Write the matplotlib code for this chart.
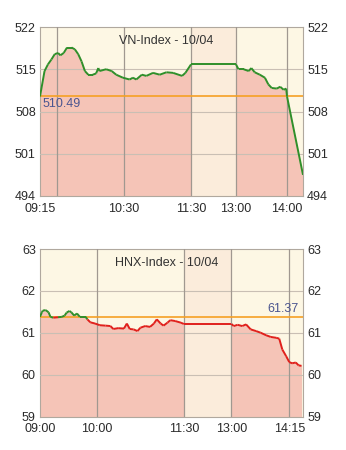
import numpy as np
import matplotlib; matplotlib.use("Agg")
import matplotlib.pyplot as plt
from matplotlib.collections import LineCollection

plt.rcParams['font.family'] = ['Liberation Sans', 'DejaVu Sans']

# --- VN-Index, 10/04 ---
vn_times = ["09:15", "09:19", "09:22", "09:25", "09:28", "09:31", "09:33", "09:36", "09:39",
            "09:43", "09:46", "09:49", "09:52", "09:55", "09:58", "10:02", "10:05", "10:07",
            "10:08", "10:14", "10:19", "10:23", "10:29", "10:35", "10:38", "10:41", "10:46",
            "10:50", "10:56", "11:02", "11:08", "11:14", "11:22", "11:25", "11:30", "13:00",
            "13:03", "13:09", "13:15", "13:18", "13:22", "13:28", "13:34", "13:38", "13:42",
            "13:48", "13:52", "13:56", "13:59", "14:00", "14:19"]
vn_vals = [510.49, 514.7, 515.8, 516.6, 517.5, 517.7, 517.3, 517.7, 518.6,
           518.6, 518.3, 517.5, 516.3, 514.7, 514.1, 514.1, 514.3, 515.2,
           514.7, 515.0, 514.7, 514.1, 513.6, 513.3, 513.6, 513.3, 514.1,
           513.9, 514.4, 514.1, 514.5, 514.4, 513.9, 514.4, 515.8, 515.8,
           515.0, 515.0, 514.7, 515.2, 514.5, 514.1, 513.6, 512.5, 511.9,
           511.8, 512.1, 511.6, 511.8, 510.5, 497.5]
vn_ref = 510.49
vn_yticks = [494, 501, 508, 515, 522]
vn_xticks = ["09:15", "10:30", "11:30", "13:00", "14:00"]
vn_grid = ["09:30", "10:30", "11:30", "13:00", "14:00"]

# --- HNX-Index, 10/04 ---
hnx_times = ["09:00", "09:02", "09:03", "09:06", "09:09", "09:11", "09:14", "09:19", "09:23",
             "09:26", "09:28", "09:31", "09:33", "09:36", "09:39", "09:42", "09:48", "09:50",
             "09:53", "09:58", "10:03", "10:09", "10:14", "10:17", "10:22", "10:28", "10:31",
             "10:34", "10:38", "10:42", "10:45", "10:50", "10:55", "10:59", "11:02", "11:06",
             "11:09", "11:13", "11:16", "11:21", "11:27", "11:30", "13:00", "13:03", "13:08",
             "13:14", "13:19", "13:25", "13:32", "13:38", "13:45", "13:51", "13:58", "14:02",
             "14:06", "14:11", "14:15", "14:19", "14:24", "14:28", "14:32"]
hnx_vals = [61.38, 61.49, 61.53, 61.54, 61.49, 61.38, 61.36, 61.37, 61.38,
            61.41, 61.48, 61.52, 61.49, 61.41, 61.46, 61.38, 61.38, 61.32,
            61.25, 61.22, 61.18, 61.17, 61.16, 61.09, 61.11, 61.10, 61.22,
            61.09, 61.08, 61.04, 61.12, 61.16, 61.14, 61.22, 61.32, 61.22,
            61.17, 61.24, 61.30, 61.28, 61.24, 61.21, 61.21, 61.16, 61.19,
            61.16, 61.20, 61.08, 61.04, 61.00, 60.94, 60.90, 60.88, 60.86,
            60.60, 60.44, 60.30, 60.27, 60.29, 60.22, 60.21]
hnx_ref = 61.37
hnx_yticks = [59, 60, 61, 62, 63]
hnx_xticks = ["09:00", "10:00", "11:30", "13:00", "14:15"]
hnx_grid = ["10:00", "11:30", "13:00", "14:15"]

# time axis is not linear (lunch break squeezed): anchor minutes -> axis fraction
vn_anchor_min = [15, 30, 90, 150, 240, 300, 319]
vn_anchor_pos = [0, 0.0646, 0.3194, 0.5741, 0.7452, 0.9392, 1.0]
hnx_anchor_min = [0, 60, 150, 240, 315, 334]
hnx_anchor_pos = [0, 0.2164, 0.5469, 0.7279, 0.9477, 1.0]

BG = "#fdf7e4"
PINK = "#f5c4b7"
LUNCH = "#fbecdb"
GREEN = "#2f8f2a"
RED = "#e0201c"
ORANGE = "#f5a024"
LABEL = "#4b5590"


def mins(ts):
    return np.array([int(t[:2]) * 60 + int(t[3:]) - 540 for t in ts], dtype=float)


def draw(ax, times, vals, ref, yticks, xticks, grid, amin, apos, title, ref_txt, txt_left, split):
    x = np.interp(mins(times), amin, apos)
    y = np.array(vals)
    lo, hi = yticks[0], yticks[-1]
    ax.set_facecolor(BG)
    ax.fill_between(x, y, lo, color=PINK, lw=0, zorder=1)
    l0, l1 = np.interp(mins(["11:30", "13:00"]), amin, apos)
    ax.axvspan(l0, l1, color=LUNCH, lw=0, zorder=2)
    for v in yticks[1:-1]:
        ax.axhline(v, color="#c9bfb4", lw=0.8, zorder=3)
    for gx in np.interp(mins(grid), amin, apos):
        ax.axvline(gx, color="#a09890", lw=0.9, zorder=3)
    ax.axhline(ref, color=ORANGE, lw=1.2, zorder=4)
    pts = np.column_stack([x, y])
    segs = np.stack([pts[:-1], pts[1:]], axis=1)
    if split:
        cols = [GREEN if max(a[1], b[1]) > ref + 0.005 else RED for a, b in segs]
    else:
        cols = [GREEN] * len(segs)
    ax.add_collection(LineCollection(segs, colors=cols, linewidths=1.4, zorder=5))
    ax.set_xlim(0, 1)
    ax.set_ylim(lo, hi)
    ax.set_yticks(yticks)
    ax.set_xticks(np.interp(mins(xticks), amin, apos))
    ax.set_xticklabels(xticks)
    ax.tick_params(length=0, labelsize=9, colors="#2a2a2a")
    ax.tick_params(axis="x", pad=5)
    ax.tick_params(axis="y", labelright=True, pad=3)
    for s in ax.spines.values():
        s.set_color("#b0a89e")
        s.set_linewidth(0.8)
    ax.text(0.48, 0.95, title, transform=ax.transAxes, ha="center", va="top",
            fontsize=9, color="#333333", zorder=6)
    if txt_left:
        ax.text(0.01, ref - 0.25, ref_txt, ha="left", va="top", fontsize=9,
                color=LABEL, zorder=6, transform=ax.get_yaxis_transform())
    else:
        ax.text(0.985, ref + 0.06, ref_txt, ha="right", va="bottom", fontsize=9,
                color=LABEL, zorder=6, transform=ax.get_yaxis_transform())


fig = plt.figure(figsize=(3.46, 4.5), dpi=100)
ax1 = fig.add_axes([40 / 346, 1 - 196 / 450, 263 / 346, 169 / 450])
ax2 = fig.add_axes([40 / 346, 1 - 416.5 / 450, 263 / 346, 167.5 / 450])

draw(ax1, vn_times, vn_vals, vn_ref, vn_yticks, vn_xticks, vn_grid,
     vn_anchor_min, vn_anchor_pos, "VN-Index - 10/04", "510.49", True, False)
draw(ax2, hnx_times, hnx_vals, hnx_ref, hnx_yticks, hnx_xticks, hnx_grid,
     hnx_anchor_min, hnx_anchor_pos, "HNX-Index - 10/04", "61.37", False, True)

fig.savefig("out.png", dpi=100)
